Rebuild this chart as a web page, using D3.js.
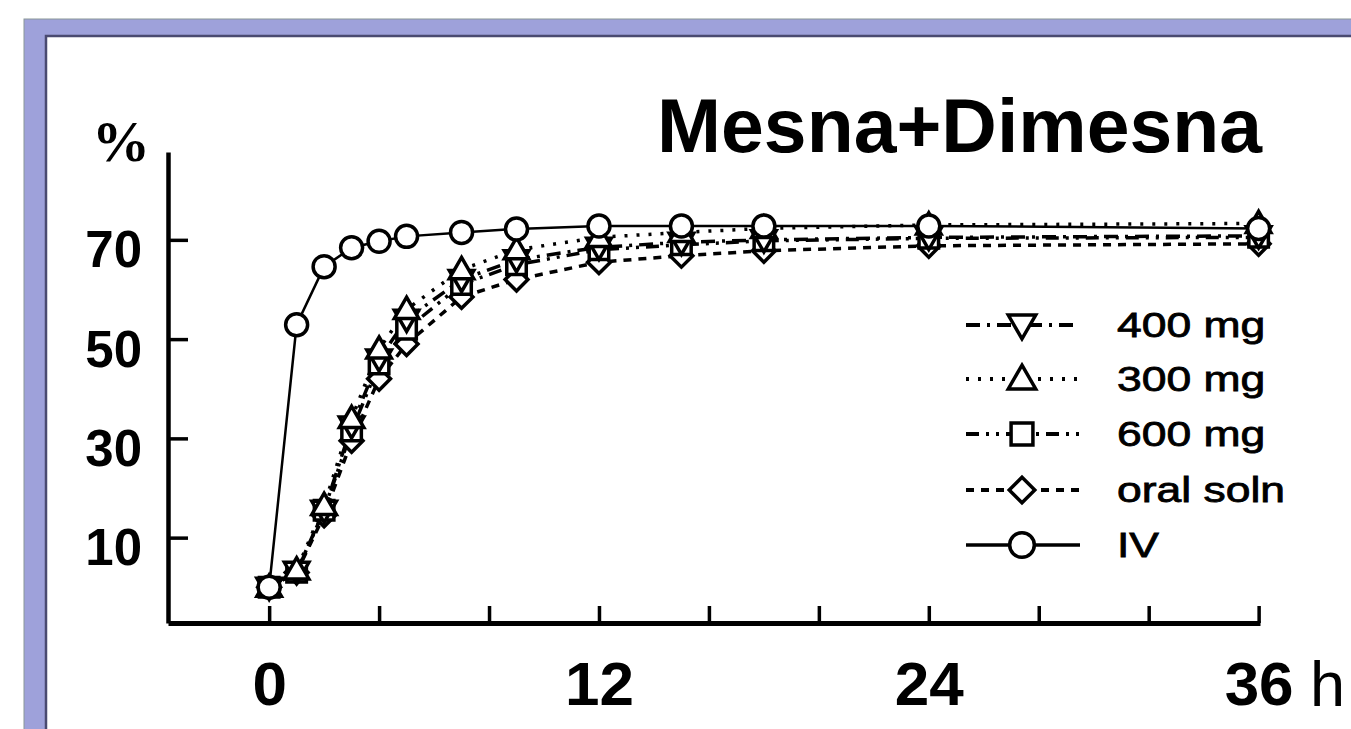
<!DOCTYPE html>
<html>
<head>
<meta charset="utf-8">
<script src="https://cdn.jsdelivr.net/npm/d3@7"></script>
<style>
  html, body { margin: 0; padding: 0; background: #fff; }
  svg { display: block; }
</style>
</head>
<body>
<svg id="chart" width="1351" height="729"></svg>
<script>
// ---- data ----
const times = [0, 1, 2, 3, 4, 5, 7, 9, 12, 15, 18, 24, 36];
const seriesNames = ["400 mg", "300 mg", "600 mg", "oral soln", "IV"];
const mg400 = [0, 3.2, 15.5, 32.5, 46, 54, 62, 66, 68.5, 69.5, 70, 70.5, 70.8];
const mg300 = [0, 3.5, 16.5, 34, 48, 56, 64, 68, 70.5, 71.5, 72.3, 73, 73.3];
const mg600 = [0, 3, 15.5, 31.5, 45, 52, 61, 65, 68, 69, 69.8, 70.3, 70.5];
const oralSoln = [0, 3, 14.5, 29.5, 42, 49, 58.5, 62, 65.5, 66.8, 67.8, 68.8, 69.2];
const iv = [0, 52.9, 64.6, 68.4, 69.7, 70.7, 71.5, 72.2, 72.8, 72.8, 72.8, 72.8, 72.3];
const xTicks = [0, 4, 8, 12, 16, 20, 24, 28, 32, 36];
const xTickLabels = ["0", "", "", "12", "", "", "24", "", "", "36"];
const yTicks = [10, 30, 50, 70];
const titleText = "Mesna+Dimesna";
const yUnit = "%";
const xUnit = "h";

// ---- styles per series ----
const styles = {
  "400 mg":   { data: mg400,    shape: "triDown", dash: "14,7,3,7" },
  "300 mg":   { data: mg300,    shape: "triUp",   dash: "3,9" },
  "600 mg":   { data: mg600,    shape: "square",  dash: "13,7,3,7,3,7" },
  "oral soln":{ data: oralSoln, shape: "diamond", dash: "8,7" },
  "IV":       { data: iv,       shape: "circle",  dash: null }
};

const svg = d3.select("#chart");

// frame
svg.append("rect").attr("x", 24).attr("y", 19).attr("width", 1400).attr("height", 800)
  .attr("fill", "#9ea1da").attr("stroke", "#8a9898").attr("stroke-width", 1);
svg.append("rect").attr("x", 46).attr("y", 36).attr("width", 1400).attr("height", 800)
  .attr("fill", "#ffffff").attr("stroke", "#4a4a70").attr("stroke-width", 2.5);

// scales
const x = d3.scaleLinear().domain([-3.68, 36.05]).range([168, 1260]);
const y = d3.scaleLinear().domain([-7.2, 87.7]).range([623, 152]);

// axes
const xAxis = d3.axisBottom(x).tickValues(xTicks)
  .tickFormat((d, i) => xTickLabels[i]).tickSizeInner(-17).tickSizeOuter(0).tickPadding(38);
const gx = svg.append("g").attr("transform", `translate(0,${y(-7.2)})`).call(xAxis);
gx.select(".domain").attr("stroke", "#000").attr("stroke-width", 5);
gx.selectAll(".tick line").attr("stroke", "#000").attr("stroke-width", 3.5);
gx.selectAll(".tick text").attr("font-family", "Liberation Sans, Arial, sans-serif")
  .attr("font-weight", "bold").attr("font-size", 62).attr("fill", "#000");

const yAxis = d3.axisLeft(y).tickValues(yTicks).tickSizeInner(-20).tickSizeOuter(0).tickPadding(26);
const gy = svg.append("g").attr("transform", `translate(${x(-3.68)},0)`).call(yAxis);
gy.select(".domain").attr("stroke", "#000").attr("stroke-width", 4.5);
gy.selectAll(".tick line").attr("stroke", "#000").attr("stroke-width", 3.5);
gy.selectAll(".tick text").attr("font-family", "Liberation Sans, Arial, sans-serif")
  .attr("font-weight", "bold").attr("font-size", 51).attr("fill", "#000").attr("dy", "0.53em");

// unit labels
svg.append("text").attr("x", 1310).attr("y", 706).text(xUnit)
  .attr("font-family", "Liberation Sans, Arial, sans-serif").attr("font-size", 63).attr("fill", "#000");
svg.append("text").attr("x", 92).attr("y", 161).text(yUnit)
  .attr("font-family", "Liberation Serif, Times New Roman, serif").attr("font-weight", "bold")
  .attr("font-size", 58).attr("fill", "#000");

// title
svg.append("text").attr("x", 657).attr("y", 152).text(titleText)
  .attr("font-family", "Liberation Sans, Arial, sans-serif").attr("font-weight", "bold")
  .attr("font-size", 76).attr("textLength", 605).attr("lengthAdjust", "spacingAndGlyphs")
  .attr("fill", "#000");

// marker drawing
function marker(g, shape, cx, cy, scale) {
  const s = scale || 1;
  let sel;
  if (shape === "circle") {
    sel = g.append("circle").attr("cx", cx).attr("cy", cy).attr("r", 11 * s);
  } else if (shape === "square") {
    sel = g.append("path").attr("d", d3.symbol(d3.symbolSquare, 380 * s * s)())
      .attr("transform", `translate(${cx},${cy})`);
  } else if (shape === "triUp") {
    sel = g.append("path").attr("d", d3.symbol(d3.symbolTriangle, 260 * s * s)())
      .attr("transform", `translate(${cx},${cy + 2})`);
  } else if (shape === "triDown") {
    sel = g.append("path").attr("d", d3.symbol(d3.symbolTriangle, 260 * s * s)())
      .attr("transform", `translate(${cx},${cy - 2}) rotate(180)`);
  } else if (shape === "diamond") {
    sel = g.append("path").attr("d", d3.symbol(d3.symbolSquare, 260 * s * s)())
      .attr("transform", `translate(${cx},${cy}) rotate(45)`);
  }
  sel.attr("fill", "#fff").attr("stroke", "#000").attr("stroke-width", 3.5);
}

const line = d3.line().x(d => x(d[0])).y(d => y(d[1]));
const drawOrder = ["oral soln", "600 mg", "400 mg", "300 mg", "IV"];
const plot = svg.append("g");
drawOrder.forEach(name => {
  const st = styles[name];
  const pts = times.map((t, i) => [t, st.data[i]]);
  plot.append("path").datum(pts).attr("d", line)
    .attr("fill", "none").attr("stroke", "#000")
    .attr("stroke-width", name === "IV" ? 2.5 : 3.5)
    .attr("stroke-dasharray", st.dash);
});
drawOrder.forEach(name => {
  const st = styles[name];
  const g = plot.append("g");
  times.forEach((t, i) => marker(g, st.shape, x(t), y(st.data[i]), 1));
});

// legend
const legendRows = [325, 379, 434, 490, 545];
const leg = svg.append("g");
seriesNames.forEach((name, i) => {
  const st = styles[name];
  const ly = legendRows[i];
  leg.append("line").attr("x1", 966).attr("x2", 1080).attr("y1", ly).attr("y2", ly)
    .attr("stroke", "#000").attr("stroke-width", name === "IV" ? 3.5 : 4)
    .attr("stroke-dasharray", st.dash);
  marker(leg, st.shape, 1022, ly, 1.12);
  leg.append("text").attr("transform", `translate(1117,${ly + 12}) scale(1.27,1)`)
    .text(name).attr("font-family", "Liberation Sans, Arial, sans-serif")
    .attr("font-size", 35).attr("fill", "#000")
    .attr("stroke", "#000").attr("stroke-width", 0.8);
});
</script>
</body>
</html>
